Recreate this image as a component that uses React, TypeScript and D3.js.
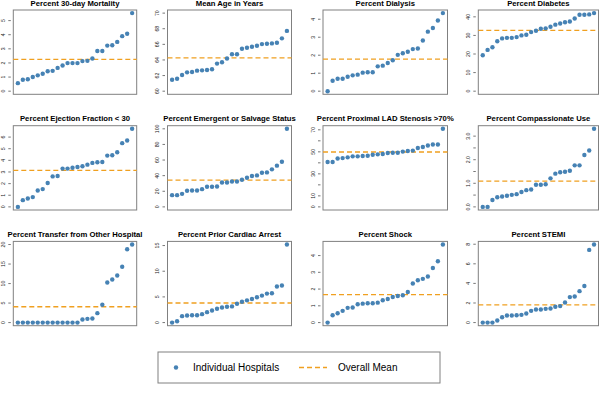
import React from "react";
import * as d3 from "d3";

const titles = [
  "Percent 30-day Mortality",
  "Mean Age in Years",
  "Percent Dialysis",
  "Percent Diabetes",
  "Percent Ejection Fraction < 30",
  "Percent Emergent or Salvage Status",
  "Percent Proximal LAD Stenosis >70%",
  "Percent Compassionate Use",
  "Percent Transfer from Other Hospital",
  "Percent Prior Cardiac Arrest",
  "Percent Shock",
  "Percent STEMI",
];

const mortality = [0.57, 0.81, 0.84, 1.0, 1.12, 1.24, 1.41, 1.44, 1.65, 1.82, 1.99, 1.99, 1.99, 2.13, 2.15, 2.32, 2.85, 2.85, 3.23, 3.25, 3.49, 3.9, 4.07, 5.53];
const meanAge = [61.47, 61.59, 62.07, 62.41, 62.46, 62.63, 62.67, 62.72, 62.8, 63.53, 63.71, 64.18, 64.74, 64.74, 65.43, 65.56, 65.69, 65.82, 66.03, 66.08, 66.12, 66.21, 66.77, 67.72];
const dialysis = [0, 0.58, 0.69, 0.69, 0.8, 0.88, 0.92, 1.03, 1.05, 1.05, 1.38, 1.42, 1.57, 1.72, 2.02, 2.11, 2.19, 2.34, 2.37, 2.82, 3.31, 3.51, 3.93, 4.34];
const diabetes = [19.3, 22.2, 23.6, 26.9, 28.4, 28.7, 28.7, 29.1, 30.0, 30.4, 31.8, 32.5, 33.6, 33.8, 34.7, 35.8, 36.4, 37.1, 37.5, 39.1, 41.1, 41.1, 41.3, 42.0];
const ejection = [0, 0.58, 0.72, 0.84, 1.41, 1.53, 2.05, 2.62, 2.65, 3.29, 3.29, 3.37, 3.43, 3.49, 3.63, 3.78, 3.83, 3.86, 4.41, 4.44, 4.7, 5.48, 5.71, 6.71];
const emergent = [15.0, 15.0, 16.7, 20.6, 21.0, 21.0, 22.7, 25.8, 25.8, 26.2, 31.3, 31.3, 32.6, 32.6, 34.8, 37.3, 39.5, 40.3, 43.8, 44.2, 48.1, 52.8, 57.9, 100];
const proximalLad = [40.7, 40.7, 44.0, 44.3, 45.0, 45.9, 45.9, 46.2, 46.5, 47.4, 47.7, 48.0, 48.9, 49.2, 49.2, 50.2, 50.8, 51.1, 53.5, 54.4, 55.7, 56.6, 56.6, 70.9];
const compassionate = [0, 0, 0.29, 0.41, 0.44, 0.47, 0.51, 0.54, 0.63, 0.71, 0.74, 0.94, 0.94, 0.96, 1.21, 1.41, 1.47, 1.49, 1.53, 1.76, 1.76, 2.2, 2.39, 3.31];
const transfer = [0, 0, 0, 0, 0, 0, 0, 0, 0, 0, 0, 0, 0, 0.78, 0.95, 1.03, 2.41, 4.57, 10.26, 11.03, 12.07, 14.31, 18.79, 20.0];
const priorArrest = [0, 0.26, 1.25, 1.38, 1.44, 1.44, 1.64, 2.03, 2.36, 2.69, 2.95, 3.08, 3.15, 3.67, 4.07, 4.33, 4.59, 4.92, 5.25, 5.64, 5.7, 7.02, 7.21, 15.2];
const shock = [0, 0.44, 0.56, 0.7, 0.88, 0.9, 1.09, 1.13, 1.15, 1.15, 1.19, 1.33, 1.41, 1.53, 1.59, 1.63, 1.83, 2.33, 2.53, 2.61, 2.75, 3.26, 3.66, 4.66];
const stemi = [0, 0, 0, 0.21, 0.55, 0.72, 0.72, 0.75, 0.79, 0.92, 1.2, 1.33, 1.33, 1.4, 1.44, 1.61, 1.68, 2.05, 2.6, 2.67, 3.21, 3.73, 7.42, 7.97];

const seriesValues = [mortality, meanAge, dialysis, diabetes, ejection, emergent, proximalLad, compassionate, transfer, priorArrest, shock, stemi];
const overallMeans = [2.25, 64.27, 1.78, 32.7, 3.14, 34.3, 49.8, 1.09, 4.05, 3.8, 1.67, 1.81];
const yLowerLimits = [0, 60, 0, 0, 0, 0, 0, 0, 0, 0, 0, 0];
const yUpperLimits = [null, 70, null, null, null, null, null, null, null, null, null, null];

const yTicks: number[][] = [
  [0, 1, 2, 3, 4, 5],
  [60, 62, 64, 66, 68, 70],
  [0, 1, 2, 3, 4],
  [0, 10, 20, 30, 40],
  [0, 1, 2, 3, 4, 5, 6],
  [0, 20, 40, 60, 80, 100],
  [0, 10, 20, 30, 40, 50, 60, 70],
  [0, 0.5, 1, 1.5, 2, 2.5, 3],
  [0, 5, 10, 15, 20],
  [0, 5, 10, 15],
  [0, 1, 2, 3, 4],
  [0, 2, 4, 6, 8],
];
const yTickLabels: string[][] = [
  ["0", "1", "2", "3", "4", "5"],
  ["60", "62", "64", "66", "68", "70"],
  ["0", "1", "2", "3", "4"],
  ["0", "10", "20", "30", "40"],
  ["0", "1", "2", "3", "4", "5", "6"],
  ["0", "20", "40", "60", "80", "100"],
  ["0", "10", "", "30", "", "50", "", "70"],
  ["0.0", "", "1.0", "", "2.0", "", "3.0"],
  ["0", "5", "10", "15", "20"],
  ["0", "5", "10", "15"],
  ["0", "1", "2", "3", "4"],
  ["0", "2", "4", "6", "8"],
];

const legendLabels = ["Individual Hospitals", "Overall Mean"];

const POINT_COLOR = "#4682B4";
const MEAN_COLOR = "#F0A020";
const BOX_COLOR = "#808080";
const FONT = "'Liberation Sans', Arial, sans-serif";

const colLefts = [13.3, 167.5, 323, 478.3];
const colWidths = [123.4, 124, 124.5, 120.2];
const rowTops = [10, 125.7, 241.4];
const boxHeight = 84.3;

function Panel({ idx }: { idx: number }) {
  const col = idx % 4;
  const row = Math.floor(idx / 4);
  const left = colLefts[col];
  const width = colWidths[col];
  const top = rowTops[row];
  const values = seriesValues[idx];
  const n = values.length;
  const lo = yLowerLimits[idx];
  const hi = yUpperLimits[idx] ?? (d3.max(values) as number);
  const padY = (hi - lo) * 0.04;
  const padX = (n - 1) * 0.04;
  const x = d3.scaleLinear().domain([1 - padX, n + padX]).range([left, left + width]);
  const y = d3.scaleLinear().domain([lo - padY, hi + padY]).range([top + boxHeight, top]);
  const ticks = yTicks[idx];
  const labels = yTickLabels[idx];
  const axisX = left - 2.5;
  const meanY = y(overallMeans[idx]);
  return (
    <g>
      <text
        x={left + width / 2}
        y={top - 4.3}
        textAnchor="middle"
        fontFamily={FONT}
        fontWeight="bold"
        fontSize={7.7}
        fill="#000"
      >
        {titles[idx]}
      </text>
      <rect x={left} y={top} width={width} height={boxHeight} fill="none" stroke={BOX_COLOR} strokeWidth={1} />
      {ticks.map((t, i) => (
        <g key={i}>
          <line x1={axisX} x2={axisX - 2.5} y1={y(t)} y2={y(t)} stroke="#555" strokeWidth={0.8} />
          {labels[i] !== "" && (
            <text
              transform={`translate(${left - 8.5},${y(t)}) rotate(-90)`}
              textAnchor="middle"
              fontFamily={FONT}
              fontSize={5.2}
              fill="#222"
            >
              {labels[i]}
            </text>
          )}
        </g>
      ))}
      <line
        x1={left}
        x2={left + width}
        y1={meanY}
        y2={meanY}
        stroke={MEAN_COLOR}
        strokeWidth={1.4}
        strokeDasharray="5,3"
      />
      {values.map((v, i) => (
        <circle key={i} cx={x(i + 1)} cy={y(v)} r={2.2} fill={POINT_COLOR} />
      ))}
    </g>
  );
}

export default function App() {
  return (
    <div style={{ position: "fixed", left: 0, top: 0 }}>
      <svg width={601} height={402} style={{ display: "block", background: "#fff" }}>
        <rect width={601} height={402} fill="#fff" />
        {titles.map((_, i) => (
          <Panel key={i} idx={i} />
        ))}
        <g>
          <rect x={158} y={352} width={282} height={31} fill="none" stroke="#808080" strokeWidth={1} />
          <circle cx={176} cy={367.5} r={2.2} fill={POINT_COLOR} />
          <text x={193} y={371} fontFamily={FONT} fontSize={10} fill="#000">
            {legendLabels[0]}
          </text>
          <line x1={299} x2={327} y1={367.5} y2={367.5} stroke={MEAN_COLOR} strokeWidth={1.6} strokeDasharray="5,3" />
          <text x={338} y={371} fontFamily={FONT} fontSize={10} fill="#000">
            {legendLabels[1]}
          </text>
        </g>
      </svg>
    </div>
  );
}
